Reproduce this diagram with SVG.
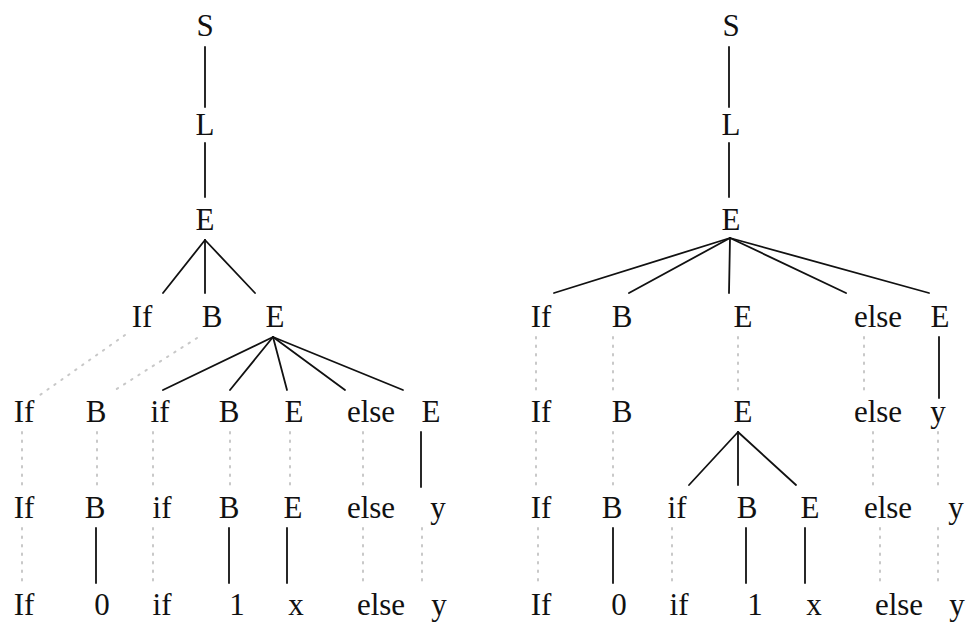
<svg xmlns="http://www.w3.org/2000/svg" width="972" height="624" viewBox="0 0 972 624">
<style>
text{font-family:"Liberation Serif","Noto Serif","DejaVu Serif",serif;font-size:31px;fill:#111;text-anchor:middle}
.e{stroke:#111;stroke-width:1.8;fill:none;stroke-linecap:round}
.d{stroke:#c8c8c8;stroke-width:2;fill:none;stroke-dasharray:1.5 7;stroke-linecap:round}
</style>
<g id="connectors">
<line class="e" x1="205" y1="47" x2="205" y2="107"/>
<line class="e" x1="205" y1="143" x2="205" y2="197"/>
<line class="e" x1="205" y1="240" x2="163" y2="293"/>
<line class="e" x1="205" y1="240" x2="205" y2="293"/>
<line class="e" x1="205" y1="240" x2="255" y2="293"/>
<line class="e" x1="273" y1="337" x2="163" y2="390"/>
<line class="e" x1="273" y1="337" x2="230" y2="390"/>
<line class="e" x1="273" y1="337" x2="287" y2="390"/>
<line class="e" x1="273" y1="337" x2="345" y2="390"/>
<line class="e" x1="273" y1="337" x2="403" y2="390"/>
<line class="e" x1="421" y1="432" x2="421" y2="487"/>
<line class="e" x1="96" y1="528" x2="96" y2="583"/>
<line class="e" x1="229" y1="528" x2="229" y2="583"/>
<line class="e" x1="287" y1="528" x2="287" y2="583"/>
<line class="d" x1="125" y1="335" x2="40" y2="395"/>
<line class="d" x1="197" y1="338" x2="112" y2="392"/>
<line class="d" x1="22" y1="432" x2="22" y2="488"/>
<line class="d" x1="97" y1="432" x2="97" y2="488"/>
<line class="d" x1="153" y1="432" x2="153" y2="488"/>
<line class="d" x1="230" y1="432" x2="230" y2="488"/>
<line class="d" x1="290" y1="432" x2="290" y2="488"/>
<line class="d" x1="363" y1="432" x2="363" y2="488"/>
<line class="d" x1="22" y1="528" x2="22" y2="585"/>
<line class="d" x1="153" y1="528" x2="153" y2="585"/>
<line class="d" x1="363" y1="528" x2="363" y2="585"/>
<line class="d" x1="422" y1="528" x2="422" y2="585"/>
<line class="e" x1="729" y1="47" x2="729" y2="107"/>
<line class="e" x1="729" y1="143" x2="729" y2="197"/>
<line class="e" x1="730" y1="238" x2="554" y2="293"/>
<line class="e" x1="730" y1="238" x2="629" y2="293"/>
<line class="e" x1="730" y1="238" x2="729" y2="293"/>
<line class="e" x1="730" y1="238" x2="846" y2="293"/>
<line class="e" x1="730" y1="238" x2="929" y2="293"/>
<line class="e" x1="939" y1="337" x2="939" y2="398"/>
<line class="e" x1="738" y1="432" x2="689" y2="485"/>
<line class="e" x1="738" y1="432" x2="738" y2="485"/>
<line class="e" x1="738" y1="432" x2="796" y2="485"/>
<line class="e" x1="613" y1="528" x2="613" y2="583"/>
<line class="e" x1="746" y1="528" x2="746" y2="583"/>
<line class="e" x1="805" y1="528" x2="805" y2="583"/>
<line class="d" x1="536" y1="337" x2="536" y2="395"/>
<line class="d" x1="613" y1="337" x2="613" y2="395"/>
<line class="d" x1="738" y1="337" x2="738" y2="395"/>
<line class="d" x1="864" y1="337" x2="864" y2="395"/>
<line class="d" x1="536" y1="432" x2="536" y2="490"/>
<line class="d" x1="613" y1="432" x2="613" y2="490"/>
<line class="d" x1="873" y1="432" x2="873" y2="490"/>
<line class="d" x1="938" y1="432" x2="938" y2="490"/>
<line class="d" x1="538" y1="528" x2="538" y2="585"/>
<line class="d" x1="672" y1="528" x2="672" y2="585"/>
<line class="d" x1="880" y1="528" x2="880" y2="585"/>
<line class="d" x1="938" y1="528" x2="938" y2="585"/>
</g>
<g id="l-S"><text x="205" y="36">S</text></g>
<g id="l-L"><text x="205" y="135">L</text></g>
<g id="l-E"><text x="205" y="230">E</text></g>
<g id="l4-If"><text x="142" y="327">If</text></g>
<g id="l4-B"><text x="212" y="327">B</text></g>
<g id="l4-E"><text x="275" y="327">E</text></g>
<g id="l5-If"><text x="24" y="422">If</text></g>
<g id="l5-B"><text x="96" y="422">B</text></g>
<g id="l5-if"><text x="160" y="422">if</text></g>
<g id="l5-B2"><text x="229" y="422">B</text></g>
<g id="l5-E"><text x="294" y="422">E</text></g>
<g id="l5-else"><text x="371" y="422">else</text></g>
<g id="l5-E2"><text x="431" y="422">E</text></g>
<g id="l6-If"><text x="24" y="518">If</text></g>
<g id="l6-B"><text x="95" y="518">B</text></g>
<g id="l6-if"><text x="162" y="518">if</text></g>
<g id="l6-B2"><text x="229" y="518">B</text></g>
<g id="l6-E"><text x="293" y="518">E</text></g>
<g id="l6-else"><text x="371" y="518">else</text></g>
<g id="l6-y"><text x="438" y="518">y</text></g>
<g id="l7-If"><text x="24" y="615">If</text></g>
<g id="l7-0"><text x="102" y="615">0</text></g>
<g id="l7-if"><text x="162" y="615">if</text></g>
<g id="l7-1"><text x="237" y="615">1</text></g>
<g id="l7-x"><text x="296" y="615">x</text></g>
<g id="l7-else"><text x="381" y="615">else</text></g>
<g id="l7-y"><text x="439" y="615">y</text></g>
<g id="r-S"><text x="731" y="36">S</text></g>
<g id="r-L"><text x="731" y="135">L</text></g>
<g id="r-E"><text x="731" y="230">E</text></g>
<g id="r4-If"><text x="541" y="327">If</text></g>
<g id="r4-B"><text x="622" y="327">B</text></g>
<g id="r4-E"><text x="743" y="327">E</text></g>
<g id="r4-else"><text x="878" y="327">else</text></g>
<g id="r4-E2"><text x="940" y="327">E</text></g>
<g id="r5-If"><text x="541" y="422">If</text></g>
<g id="r5-B"><text x="622" y="422">B</text></g>
<g id="r5-E"><text x="743" y="422">E</text></g>
<g id="r5-else"><text x="878" y="422">else</text></g>
<g id="r5-y"><text x="938" y="422">y</text></g>
<g id="r6-If"><text x="541" y="518">If</text></g>
<g id="r6-B"><text x="612" y="518">B</text></g>
<g id="r6-if"><text x="677" y="518">if</text></g>
<g id="r6-B2"><text x="747" y="518">B</text></g>
<g id="r6-E"><text x="810" y="518">E</text></g>
<g id="r6-else"><text x="888" y="518">else</text></g>
<g id="r6-y"><text x="956" y="518">y</text></g>
<g id="r7-If"><text x="541" y="615">If</text></g>
<g id="r7-0"><text x="619" y="615">0</text></g>
<g id="r7-if"><text x="679" y="615">if</text></g>
<g id="r7-1"><text x="755" y="615">1</text></g>
<g id="r7-x"><text x="814" y="615">x</text></g>
<g id="r7-else"><text x="899" y="615">else</text></g>
<g id="r7-y"><text x="957" y="615">y</text></g>
</svg>
